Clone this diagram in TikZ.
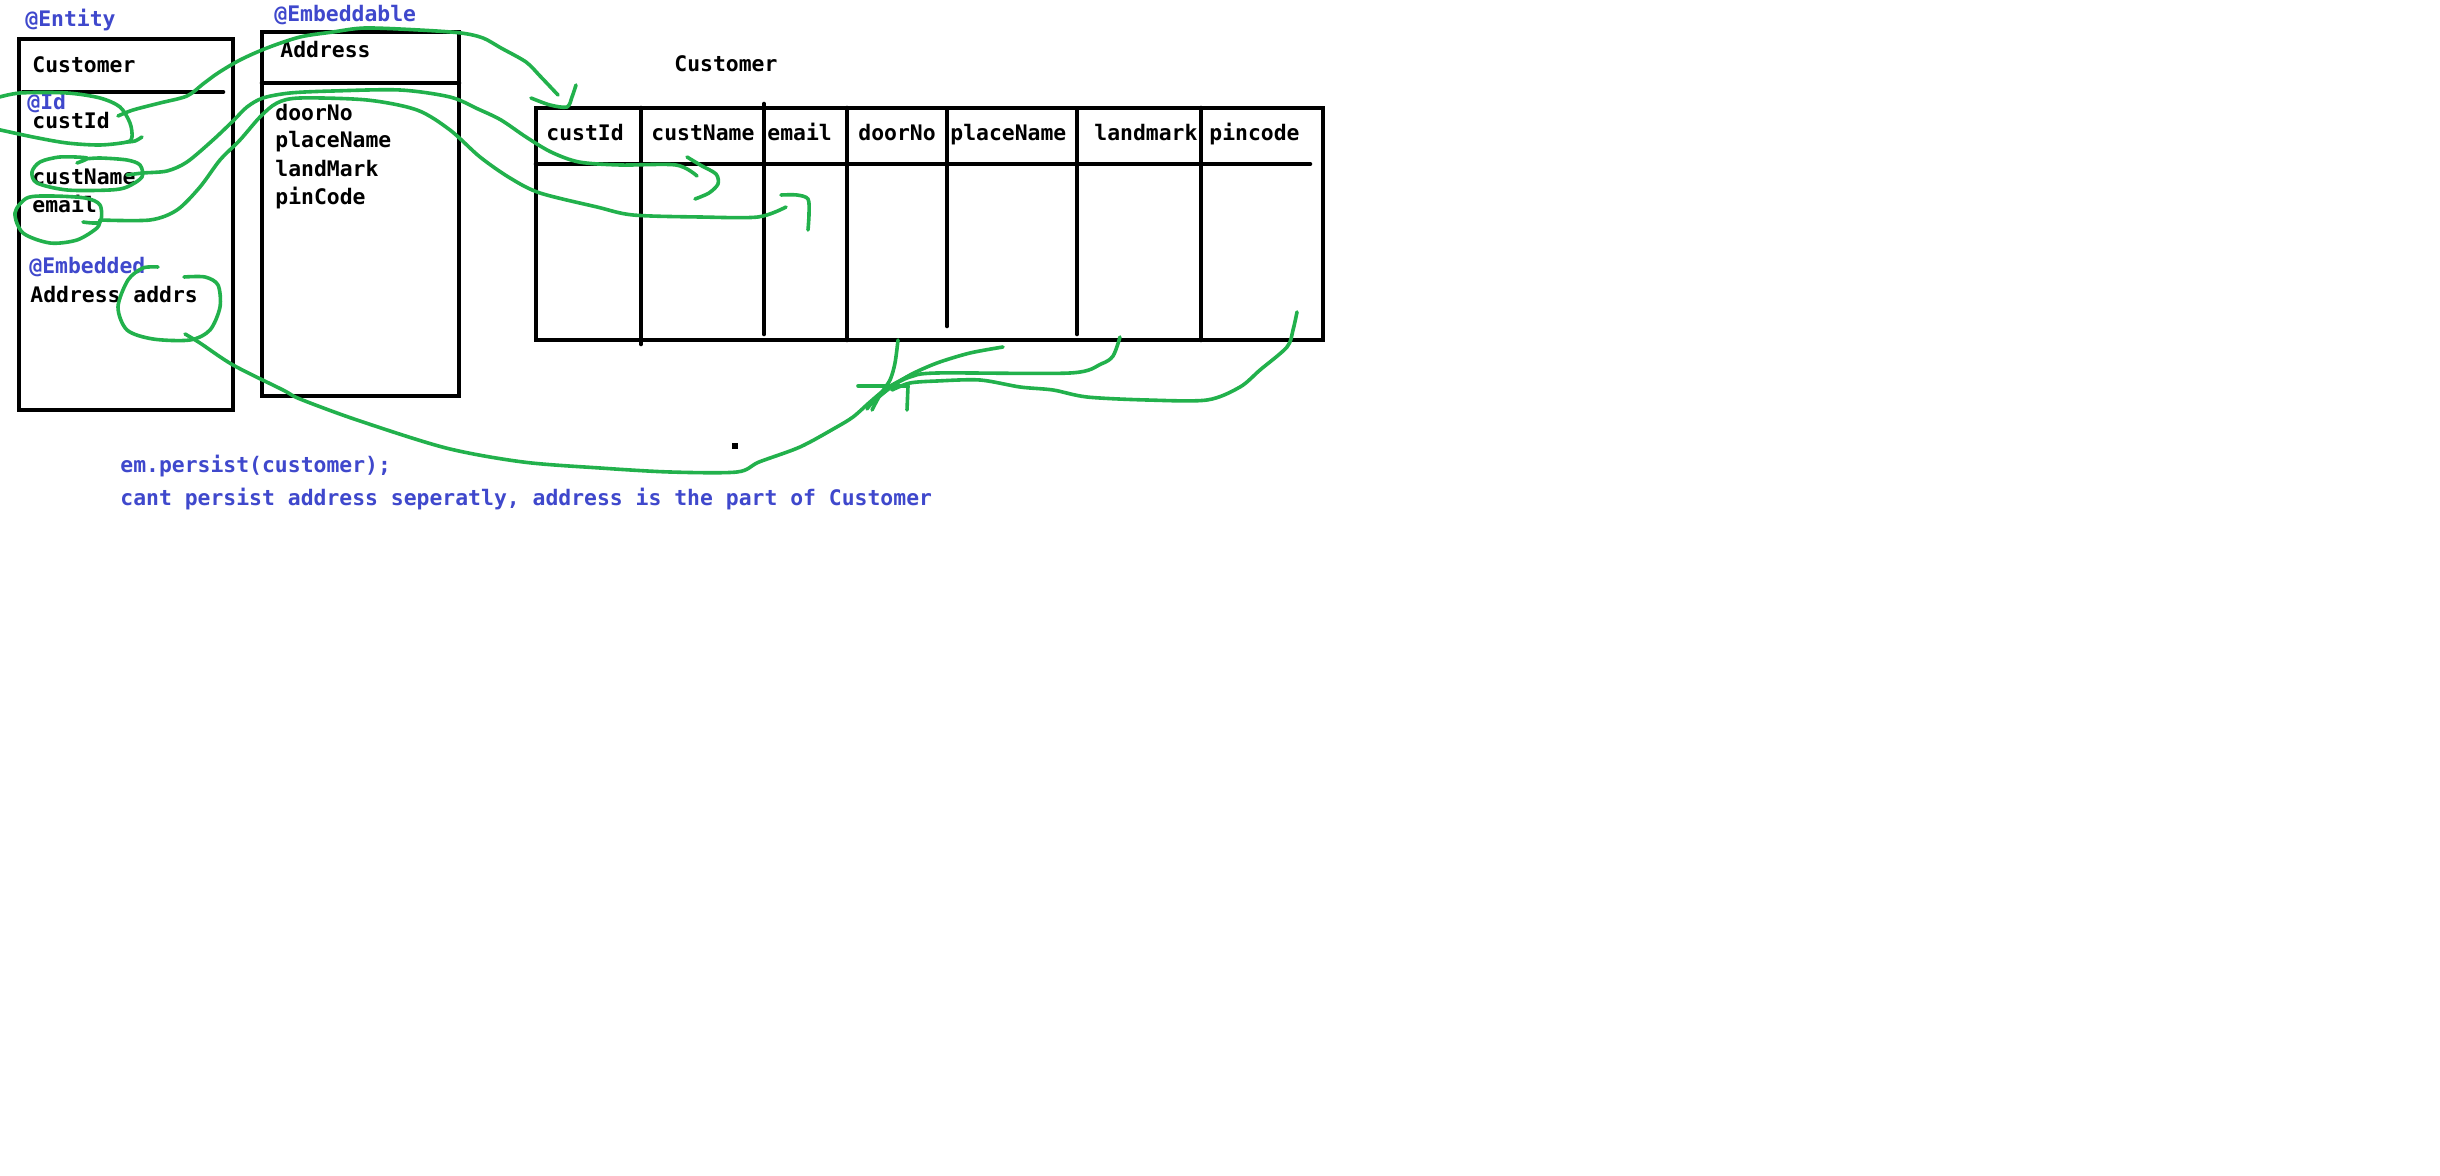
\documentclass[tikz,border=0pt]{standalone}
\usepackage{fontspec}
\setmonofont{DejaVu Sans Mono}
\definecolor{pblue}{HTML}{3F48CC}
\definecolor{pgreen}{HTML}{22B14C}
\begin{document}
\begin{tikzpicture}[x=0.5pt,y=-0.5pt,
  txt/.style={anchor=base west, inner sep=0pt, font=\ttfamily\bfseries\fontsize{10.7}{12}\selectfont},
  ann/.style={txt, text=pblue},
  boxline/.style={line width=2.3pt, line cap=round},
  grn/.style={draw=pgreen, line width=1.8pt, line cap=round, line join=round}]
\useasboundingbox[fill=white] (0,0) rectangle (2440,1176);

% ---- entity class box
\draw[boxline] (19,39) rectangle (233,410);
\draw[boxline] (23,92) -- (223,92);
\node[ann] (entity) at (25,27) {@Entity};
\node[txt] (custcls) at (32,73) {Customer};
\node[ann] (idann) at (27,110) {@Id};
\node[txt] (custId) at (32,129) {custId};
\node[txt] (custName) at (32,185) {custName};
\node[txt] (email) at (32,213) {email};
\node[ann] (embd) at (29,274) {@Embedded};
\node[txt] (addrs) at (30,303) {Address addrs};

% ---- embeddable class box
\draw[boxline] (262,32) rectangle (459,396);
\draw[boxline] (262,83) -- (459,83);
\node[ann] (embl) at (274,22) {@Embeddable};
\node[txt] (addrcls) at (280,58) {Address};
\node[txt] (doorNo) at (275,121) {doorNo};
\node[txt] (placeName) at (275,148) {placeName};
\node[txt] (landMark) at (275,177) {landMark};
\node[txt] (pinCode) at (275,205) {pinCode};

% ---- table
\node[txt] (tabtitle) at (674,72) {Customer};
\draw[boxline] (536,108) rectangle (1323,340);
\draw[boxline] (536,164) -- (1310,164);
\draw[boxline] (641,108) -- (641,344);
\draw[boxline] (764,104) -- (764,334);
\draw[boxline] (847,108) -- (847,340);
\draw[boxline] (947,111) -- (947,326);
\draw[boxline] (1077,111) -- (1077,334);
\draw[boxline] (1201,108) -- (1201,340);
\node[txt] (hId) at (546,141) {custId};
\node[txt] (hName) at (651,141) {custName};
\node[txt] (hEmail) at (767,141) {email};
\node[txt] (hDoor) at (858,141) {doorNo};
\node[txt] (hPlace) at (950,141) {placeName};
\node[txt] (hLand) at (1094,141) {landmark};
\node[txt] (hPin) at (1209,141) {pincode};

\fill (732,443) rectangle (738,449);

% ---- notes
\node[ann] (note1) at (120,473) {em.persist(customer);};
\node[ann] (note2) at (120,505) {cant persist address seperatly, address is the part of Customer};

% ---- green hand-drawn marks
% custId loop
\draw[grn] plot[smooth] coordinates {(-4,98) (20,93) (67,93) (100,98) (120,107) (130,123) (132,137) (127,142) (100,145) (67,143) (33,137) (-4,129)};
\draw[grn] plot[smooth] coordinates {(127,142) (135,141) (142,137)};
% custId -> table custId
\coordinate (c1s) at (118,116);
\coordinate (c1e) at (558,95);
\draw[grn] plot[smooth] coordinates {(c1s) (133,110) (160,103) (187,96) (203,84) (218,73) (240,60) (267,48) (300,37) (333,32) (365,28) (419,30) (461,33) (483,38) (501,48) (526,62) (540,76) (c1e)};
\draw[grn] plot[smooth] coordinates {(531,98) (550,105) (567,107) (572,97) (576,85)};

% custName loop
\draw[grn] plot[smooth] coordinates {(77,163) (87,158) (60,157) (40,162) (32,172) (37,183) (67,190) (110,190) (127,187) (142,177) (140,165) (127,160) (100,158) (85,159)};
% custName -> table custName
\coordinate (c2s) at (127,175);
\coordinate (c2e) at (697,176);
\draw[grn] plot[smooth] coordinates {(c2s) (143,173) (167,171) (187,162) (213,140) (233,121) (247,107) (263,98) (290,93) (333,91) (400,90) (450,97) (478,109) (501,120) (526,137) (551,152) (579,162) (620,165) (676,165) (c2e)};
\draw[grn] plot[smooth] coordinates {(687,157) (702,166) (716,174) (718,184) (709,193) (695,199)};

% email loop
\draw[grn] plot[smooth] coordinates {(83,222) (100,222) (100,205) (85,198) (50,196) (27,198) (15,213) (23,233) (50,243) (77,240) (97,228) (100,220)};
% email -> table email
\coordinate (c3s) at (100,220);
\coordinate (c3e) at (786,207);
\draw[grn] plot[smooth] coordinates {(c3s) (150,220) (177,210) (200,187) (220,160) (240,140) (260,117) (277,103) (300,98) (367,100) (417,110) (450,130) (480,157) (510,178) (540,193) (597,207) (633,215) (700,217) (758,217) (c3e)};
\draw[grn] plot[smooth] coordinates {(781,195) (797,195) (808,199) (809,214) (808,230)};

% addrs loop
\draw[grn] plot[smooth] coordinates {(158,267) (143,268) (128,280) (118,307) (127,330) (153,339) (190,340) (210,330) (220,307) (218,285) (205,277) (184,277)};
% addrs -> table address columns
\coordinate (c4s) at (185,334);
\coordinate (c4e) at (907,377);
\draw[grn] plot[smooth] coordinates {(c4s) (200,343) (233,365) (283,390) (300,399) (357,420) (446,448) (523,462) (600,468) (670,472) (737,472) (759,462) (800,447) (835,428) (853,417) (870,402) (887,388) (c4e)};
\draw[grn] (858,386) -- (908,386);
\draw[grn] (908,386) -- (907,410);
% column strokes converging
\draw[grn] plot[smooth] coordinates {(898,340) (895,363) (890,380) (880,395) (872,410)};
\draw[grn] plot[smooth] coordinates {(1003,347) (970,353) (937,363) (910,375) (890,388) (873,402) (867,409)};
\draw[grn] plot[smooth] coordinates {(1120,337) (1113,356) (1101,364) (1070,373) (937,373) (910,377) (893,385)};
\draw[grn] plot[smooth] coordinates {(1297,312) (1293,330) (1287,347) (1260,370) (1240,387) (1207,400) (1147,400) (1087,397) (1053,390) (1020,387) (980,380) (937,381) (910,383) (892,390)};
\end{tikzpicture}
\end{document}
